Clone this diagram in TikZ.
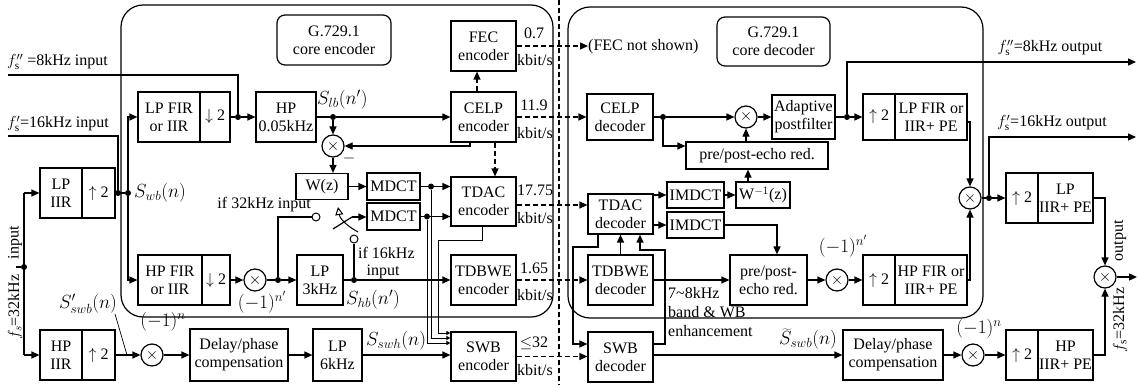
\RequirePackage{fix-cm}
\documentclass[tikz,border=0pt]{standalone}
\usepackage{fontspec}
\setmainfont{Liberation Serif}
\usetikzlibrary{arrows.meta}
\newcommand\fsz{\fontsize{16}{18}\selectfont}
\newcommand\fmz{\fontsize{19}{21}\selectfont}
\tikzset{
  ln/.style={line width=1.2pt},
  arr/.style={ln, -{Triangle[length=8pt,width=7pt]}},
  sarr/.style={line width=1pt, -{Triangle[length=4pt,width=4pt]}},
  dsh/.style={line width=1.2pt, dash pattern=on 5pt off 3pt},
  darr/.style={dsh, -{Triangle[length=8pt,width=7pt]}},
  blk/.style={draw, line width=1.2pt, inner sep=0pt, align=center, font=\fsz},
  wh/.style 2 args={minimum width=#1, minimum height=#2},
  mul/.style={draw, circle, line width=1.2pt, minimum size=22pt, inner sep=0pt, font=\fsz, fill=white},
  jdot/.style={circle, fill, inner sep=0pt, minimum size=6pt},
  cont/.style={circle, draw, line width=1pt, fill=white, inner sep=0pt, minimum size=8pt},
  lbl/.style={font=\fsz, inner sep=0pt, align=left},
  mlbl/.style={font=\fmz, inner sep=0pt},
}
\begin{document}
\begin{tikzpicture}[x=1pt,y=-1pt]
\useasboundingbox (0,0) rectangle (1139,385);
% big boxes
\draw[ln, rounded corners=22pt] (121,5) rectangle (553,317);
\draw[ln, rounded corners=22pt] (568,7) rectangle (983,318);
\node[blk, rounded corners=8pt, wh={114}{50}] (gcoreE) at (334,40) {G.729.1\\core encoder};
\node[blk, rounded corners=8pt, wh={113}{49}] (gcoreD) at (773.5,41.5) {G.729.1\\core decoder};
\draw[dsh] (559,0) -- (559,385);

% ---------------- encoder nodes
\node[blk, wh={42}{50}] (lpiirL) at (61,193) {LP\\IIR};
\node[blk, wh={33}{50}] (lpiirR) at (98.5,193) {$\uparrow$ 2};
\node[blk, wh={42}{50}] (hpiirL) at (61,355) {HP\\IIR};
\node[blk, wh={33}{50}] (hpiirR) at (98.5,355) {$\uparrow$ 2};
\node[blk, wh={62}{50}] (lpfirL) at (169,117) {LP FIR\\or IIR};
\node[blk, wh={30}{50}] (lpfirR) at (215,117) {$\downarrow$ 2};
\node[blk, wh={60}{50}] (hp005) at (286,117) {HP\\0.05kHz};
\node[mul] (sum1) at (333,146) {$\times$};
\node[blk, wh={52}{26}] (wz) at (322,186.5) {W(z)};
\node[blk, wh={53}{27}] (mdct1) at (393.5,186.5) {MDCT};
\node[blk, wh={53}{27}] (mdct2) at (393.5,216.5) {MDCT};
\node[blk, wh={64}{50}] (hpfirL) at (170,280) {HP FIR\\or IIR};
\node[blk, wh={28}{50}] (hpfirR) at (216,280) {$\downarrow$ 2};
\node[mul] (mulhp) at (255,280) {$\times$};
\node[blk, wh={46}{50}] (lp3) at (320,280) {LP\\3kHz};
\node[blk, wh={65}{50}] (fec) at (483.5,46) {FEC\\encoder};
\node[blk, wh={65}{50}] (celpE) at (483.5,117) {CELP\\encoder};
\node[blk, wh={65}{49}] (tdacE) at (483.5,201.5) {TDAC\\encoder};
\node[blk, wh={65}{50}] (tdbweE) at (483.5,280) {TDBWE\\encoder};
\node[blk, wh={65}{49}] (swbE) at (483.5,356.5) {SWB\\encoder};
\node[mul] (mulswb) at (152,355) {$\times$};
\node[blk, wh={98}{52}] (delayE) at (239,355) {Delay/phase\\compensation};
\node[blk, wh={49}{52}] (lp6) at (337.5,355) {LP\\6kHz};

\node[jdot] (d8) at (238,117) {};
\node[jdot] (dA) at (118,193) {};
\node[jdot] (dB) at (128,193) {};
\node[jdot] (dS) at (333,117) {};
\node[jdot] (dM1) at (431,186.5) {};
\node[jdot] (dM2) at (427,216.5) {};
\node[jdot] (dN) at (278,280) {};
\node[jdot] (dH) at (354,280) {};
\node[jdot] (d32) at (24,267) {};
\node[cont] (c32) at (316,217) {};
\node[cont] (c16) at (354,239) {};
\coordinate (piv) at (352,217);
\coordinate (armend) at (333,229);

% inputs
\coordinate (in8) at (8,75);
\coordinate (in16) at (8,136);
\coordinate (in32) at (16,267);
\coordinate (v32t) at (24,193);
\coordinate (v32b) at (24,355);
\draw[ln] (in8) -| (d8);
\draw[ln] (in16) -| (dA);
\draw[ln] (in32) -- (d32);
\draw[ln] (v32t) -- (v32b);
\draw[arr] (v32t) -- (lpiirL.west);
\draw[arr] (v32b) -- (hpiirL.west);
\draw[ln] (lpiirR.east) -- (dB);
\draw[arr] (dB) |- (lpfirL.west);
\draw[arr] (dB) |- (hpfirL.west);
\draw[ln] (lpfirR.east) -- (d8);
\draw[arr] (d8) -- (hp005.west);
\draw[ln] (hp005.east) -- (dS);
\draw[arr] (dS) -- (celpE.west);
\draw[arr] (dS) -- (sum1.north);
\coordinate (fb) at (470,146);
\draw[arr] (celpE.south -| fb) -- (fb) -- (sum1.east);
\draw[arr] (sum1.south) -- (sum1.south |- wz.north);
\draw[arr] (wz.east) -- (wz.east -| mdct1.west);
\draw[ln] (mdct1.east) -- (dM1);
\draw[arr] (dM1) -- (dM1 -| tdacE.west);
\draw[ln] (mdct2.east) -- (dM2);
\draw[arr] (dM2) -- (dM2 -| tdacE.west);
\coordinate (tdb) at (482,240);
\coordinate (k1) at (438,333);
\coordinate (k2) at (431,338);
\coordinate (k3) at (427,343);
\draw[sarr] (tdacE.south -| tdb) -- (tdb) -| (k1) -- (k1 -| swbE.west);
\draw[sarr] (dM1) -- (k2) -- (k2 -| swbE.west);
\draw[sarr] (dM2) -- (k3) -- (k3 -| swbE.west);
% HP path
\draw[arr] (hpfirR.east) -- (mulhp.west);
\draw[ln] (mulhp.east) -- (dN);
\draw[arr] (dN) -- (lp3.west);
\draw[ln] (dN) |- (c32.west);
\draw[ln] (lp3.east) -- (dH);
\draw[arr] (dH) -- (tdbweE.west);
\draw[ln] (dH) -- (c16.south);
% switch
\draw[ln] (armend) -- (piv);
\draw[arr] (piv) -- (piv -| mdct2.west);
\draw[line width=1pt, -{Triangle[open,length=8pt,width=8pt]}] (358,232) .. controls (347,226) and (340,219) .. (338,207);
% bottom row
\draw[arr] (hpiirR.east) -- (mulswb.west);
\draw[arr] (mulswb.east) -- (delayE.west);
\draw[arr] (delayE.east) -- (lp6.west);
\draw[arr] (lp6.east) -- (lp6.east -| swbE.west);

% dashed encoder-decoder
\node[lbl, anchor=west] (fecns) at (588,47) {(FEC not shown)};
\coordinate (xf) at (477,0);
\coordinate (xt) at (495,0);
\coordinate (yt) at (0,205);
\draw[darr] (celpE.north -| xf) -- (fec.south -| xf);
\draw[darr] (celpE.south -| xt) -- (tdacE.north -| xt);

% ---------------- decoder nodes
\node[blk, wh={66}{46}] (celpD) at (620,117) {CELP\\decoder};
\node[jdot] (dC) at (663,117) {};
\node[mul] (mD1) at (746,117) {$\times$};
\node[blk, wh={63}{44}] (adapt) at (803.5,117) {Adaptive\\postfilter};
\node[jdot] (dP) at (847,117) {};
\node[blk, wh={32}{46}] (upLF) at (879,117) {$\uparrow$ 2};
\node[blk, wh={72}{46}] (lpfD) at (931,117) {LP FIR or\\IIR+ PE};
\node[blk, wh={142}{27}] (pp1) at (757,155.5) {pre/post-echo red.};
\node[blk, wh={57}{26}] (imdct1) at (695.5,195) {IMDCT};
\node[blk, wh={54}{26}] (winv) at (763,195) {W$^{-1}$(z)};
\node[blk, wh={57}{26}] (imdct2) at (695.5,225) {IMDCT};
\node[blk, wh={65}{40}] (tdacD) at (620.5,214) {TDAC\\decoder};
\node[blk, wh={65}{50}] (tdbweD) at (620.5,280) {TDBWE\\decoder};
\node[blk, wh={65}{50}] (swbD) at (620.5,357) {SWB\\decoder};
\node[blk, wh={77}{50}] (pp2) at (768.5,280) {pre/post-\\echo red.};
\node[mul] (mD2) at (837,280) {$\times$};
\node[blk, wh={32}{50}] (upHF) at (879,280) {$\uparrow$ 2};
\node[blk, wh={72}{50}] (hpfD) at (931,280) {HP FIR or\\IIR+ PE};
\node[mul] (mD3) at (970,198) {$\times$};
\node[jdot] (dQ) at (989,198) {};
\node[blk, wh={32}{50}] (upL2) at (1022,198) {$\uparrow$ 2};
\node[blk, wh={55}{50}] (lpD2) at (1065.5,198) {LP\\IIR+ PE};
\node[mul] (mF) at (1105,277) {$\times$};
\node[blk, wh={100}{50}] (delayD) at (893,355) {Delay/phase\\compensation};
\node[mul] (mD4) at (973,355) {$\times$};
\node[blk, wh={32}{50}] (upH2) at (1022,355) {$\uparrow$ 2};
\node[blk, wh={55}{50}] (hpD2) at (1065.5,355) {HP\\IIR+ PE};

\draw[darr] (fec.east) -- (fec.east -| fecns.west);
\draw[darr] (celpE.east) -- (celpD.west);
\draw[darr] (tdacE.east |- yt) -- (tdacD.west |- yt);
\draw[darr] (tdbweE.east) -- (tdbweD.west);
\draw[darr] (swbE.east) -- (swbE.east -| swbD.west);

\draw[ln] (celpD.east) -- (dC);
\draw[arr] (dC) -- (mD1.west);
\coordinate (yp) at (0,146);
\draw[arr] (dC) |- (pp1.west |- yp);
\draw[arr] (pp1.north -| mD1) -- (mD1.south);
\draw[arr] (mD1.east) -- (adapt.west);
\draw[ln] (adapt.east) -- (dP);
\draw[arr] (dP) -- (upLF.west);
\coordinate (o8) at (1136,62);
\draw[arr] (dP) |- (o8);
\draw[arr] ([yshift=-5pt]lpfD.east) -| (mD3.north);
\draw[arr] (hpfD.east) -| (mD3.south);
\draw[ln] (mD3.east) -- (dQ);
\draw[arr] (dQ) -- (upL2.west);
\coordinate (o16) at (1136,137);
\draw[arr] (dQ) |- (o16);
\draw[arr] (lpD2.east) -| (mF.north);
\draw[arr] (hpD2.east) -| (mF.south);
\coordinate (oF) at (1137,277);
\draw[arr] (mF.east) -- (oF);
\draw[arr] (imdct1.east) -- (winv.west);
\coordinate (xw) at (748,0);
\draw[arr] (winv.north -| xw) -- (pp1.south -| xw);
\draw[arr] (tdacD.east |- imdct1.west) -- (imdct1.west);
\draw[arr] (tdacD.east |- imdct2.west) -- (imdct2.west);
\coordinate (xi) at (777,0);
\draw[arr] (imdct2.east) -| (pp2.north -| xi);
\draw[arr] (tdbweD.north) -- (tdacD.south -| tdbweD.north);
\coordinate (r1) at (665,250);
\coordinate (r2) at (640,250);
\coordinate (ys) at (0,344);
\draw[arr] (swbD.east |- ys) -| (r1) -- (r2) -- (r2 |- tdacD.south);
\coordinate (q1) at (598,247);
\coordinate (q2) at (573,247);
\draw[arr] (tdacD.south -| q1) -- (q1) -- (q2) |- (swbD.west |- ys);
\draw[arr] (tdbweD.east) -- (pp2.west);
\draw[arr] (pp2.east) -- (mD2.west);
\draw[arr] (mD2.east) -- (upHF.west);
\coordinate (yb) at (0,355);
\draw[arr] (swbD.east |- yb) -- (delayD.west |- yb);
\draw[arr] (delayD.east) -- (mD4.west);
\draw[arr] (mD4.east) -- (upH2.west);

% ---------------- labels
\node[lbl, anchor=west] at (7,62) {$f''_{\mathrm{s}}$ =8kHz input};
\node[lbl, anchor=west] at (7,124) {$f'_{\mathrm{s}}$=16kHz input};
\node[lbl, rotate=90] at (15,307) {$f_{s}$=32kHz};
\node[lbl, rotate=90] at (15,243) {input};
\node[mlbl, anchor=west] (lSwb) at (134,193) {$S_{wb}(n)$};
\node[mlbl, anchor=west] (lSlb) at (317,100) {$S_{lb}(n')$};
\node[mlbl, anchor=west] (lShb) at (346,300) {$S_{hb}(n')$};
\node[mlbl] (lSp) at (88,304) {$S'_{swb}(n)$};
\coordinate (wSp) at (127,355);
\draw[line width=0.7pt] (115,314) -- (wSp);
\node[mlbl, anchor=west] (lSswh) at (366,341) {$S_{swh}(n)$};
\node[mlbl] at (163,322) {$(-1)^{n}$};
\node[mlbl] at (262,302) {$(-1)^{n'}$};
\node[lbl] at (349,158) {$-$};
\node[lbl, anchor=east] at (311,205) {if 32kHz input};
\node[lbl, anchor=west] at (358,253) {if 16kHz};
\node[lbl] at (383,272) {input};
\node[lbl] at (534,33) {0.7};
\node[lbl] at (535,60) {kbit/s};
\node[lbl] at (534,105) {11.9};
\node[lbl] at (535,133) {kbit/s};
\node[lbl] at (535,190) {17.75};
\node[lbl] at (535,218) {kbit/s};
\node[lbl] at (534,268) {1.65};
\node[lbl] at (535,295) {kbit/s};
\node[lbl] at (534,343) {$\le$32};
\node[lbl] at (535,370) {kbit/s};
\node[lbl, anchor=west] at (668,293) {7\textasciitilde 8kHz};
\node[lbl, anchor=west] at (668,312) {band \& WB};
\node[lbl, anchor=west] at (668,331) {enhancement};
\node[mlbl] at (843,246) {$(-1)^{n'}$};
\node[mlbl] at (808,339) {$\widetilde{S}_{swb}(n)$};
\node[mlbl] at (979,329) {$(-1)^{n}$};
\node[lbl] at (1050,48) {$f''_{\mathrm{s}}$=8kHz output};
\node[lbl] at (1052,123) {$f'_{\mathrm{s}}$=16kHz output};
\node[lbl, rotate=90] at (1120,241) {output};
\node[lbl, rotate=90] at (1120,320) {$f_{\mathrm{s}}$=32kHz};
\end{tikzpicture}
\end{document}
